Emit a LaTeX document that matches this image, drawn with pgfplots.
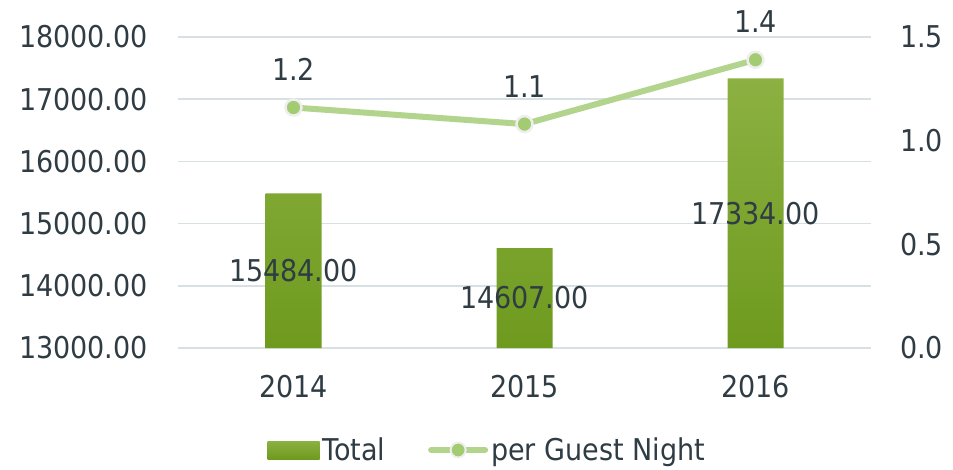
\documentclass[border=0pt]{standalone}
\usepackage{pgfplots}
\pgfplotsset{compat=1.18}
\usepackage{pgfplotstable}
\usepackage{fontspec}
\setmainfont{DejaVu Sans Condensed}
\definecolor{textC}{HTML}{2F3C43}
\definecolor{gridC}{HTML}{D7E1E4}
\definecolor{barTop}{HTML}{8CB142}
\definecolor{barBot}{HTML}{6E9A1E}
\definecolor{lineC}{HTML}{B3D48C}
\definecolor{markC}{HTML}{A3CB72}
\definecolor{markB}{HTML}{EEEEEE}
\pgfplotstableread{
x v
0 15484
1 14607
2 17334
}\totaldata
\pgfplotstableread{
x r
0 1.16
1 1.08
2 1.39
}\ratedata
\newcommand{\bigf}{\fontsize{30}{36}\selectfont}
\begin{document}
\begin{tikzpicture}[x=1pt,y=1pt]
\useasboundingbox (0,0) rectangle (953,469);
\begin{axis}[
  at={(178pt,121pt)}, anchor=south west,
  scale only axis, width=693pt, height=311pt,
  xmin=-0.5, xmax=2.5, ymin=0, ymax=5000,
  xtick={0,1,2},
  xticklabels={2014,2015,2016},
  ytick={0,1000,2000,3000,4000,5000},
  yticklabels={13000.00,14000.00,15000.00,16000.00,17000.00,18000.00},
  ymajorgrids, grid style={draw=gridC, line width=1.5pt},
  axis line style={draw=none}, tick style={draw=none},
  tick label style={font=\bigf, text=textC},
  yticklabel style={anchor=east, inner sep=0pt, xshift=-30pt},
  xticklabel style={anchor=north, inner sep=0pt, yshift=-27pt},
  ytick pos=left, xtick pos=bottom,
  clip=false,
  legend columns=2,
  legend style={at={(0.447,-0.328)}, anchor=center, draw=none, fill=none,
    font=\bigf, text=textC, nodes={inner sep=3pt},
    /tikz/every even column/.append style={column sep=40pt}},
  legend cell align=left,
]
\addplot[ybar, bar width=56pt, draw=none, top color=barTop, bottom color=barBot, forget plot]
  table[x=x, y expr=\thisrow{v}-13000]{\totaldata};
\addplot[only marks, mark=none, draw=none, forget plot,
  point meta=explicit,
  nodes near coords={\pgfmathprintnumber[fixed,fixed zerofill,precision=2,1000 sep={},assume math mode=true]{\pgfplotspointmeta}},
  every node near coord/.append style={anchor=center, font=\bigf, text=textC}]
  table[x=x, y expr=(\thisrow{v}-13000)/2, meta=v]{\totaldata};
\addlegendimage{legend image code/.code={\shade[draw=none, top color=barTop, bottom color=barBot] (0pt,-9pt) rectangle (52pt,9pt);}}
\addlegendentry{Total}
\addlegendimage{legend image code/.code={\draw[lineC, line width=6pt, line cap=round] (3pt,0pt) -- (57pt,0pt); \draw[fill=markC, draw=markB, line width=2pt] (30pt,0pt) circle (7.5pt);}}
\addlegendentry{per Guest Night}
\end{axis}
\begin{axis}[
  at={(178pt,121pt)}, anchor=south west,
  scale only axis, width=693pt, height=311pt,
  xmin=-0.5, xmax=2.5, ymin=0, ymax=1.5,
  hide x axis,
  ytick={0,0.5,1,1.5},
  yticklabel pos=right,
  yticklabel={\pgfmathprintnumber[fixed,fixed zerofill,precision=1]{\tick}},
  axis line style={draw=none}, tick style={draw=none},
  tick label style={font=\bigf, text=textC},
  yticklabel style={anchor=west, inner sep=0pt, xshift=29pt},
  /pgf/number format/assume math mode=true,
  clip=false,
]
\addplot[lineC, line width=6pt, mark=*, mark size=8pt,
  mark options={fill=markC, draw=markB, line width=2.5pt},
  nodes near coords={\pgfmathprintnumber[fixed,fixed zerofill,precision=1,assume math mode=true]{\pgfplotspointmeta}},
  every node near coord/.append style={anchor=center, yshift=38pt, font=\bigf, text=textC}]
  table[x=x, y=r]{\ratedata};
\end{axis}
\end{tikzpicture}
\end{document}
